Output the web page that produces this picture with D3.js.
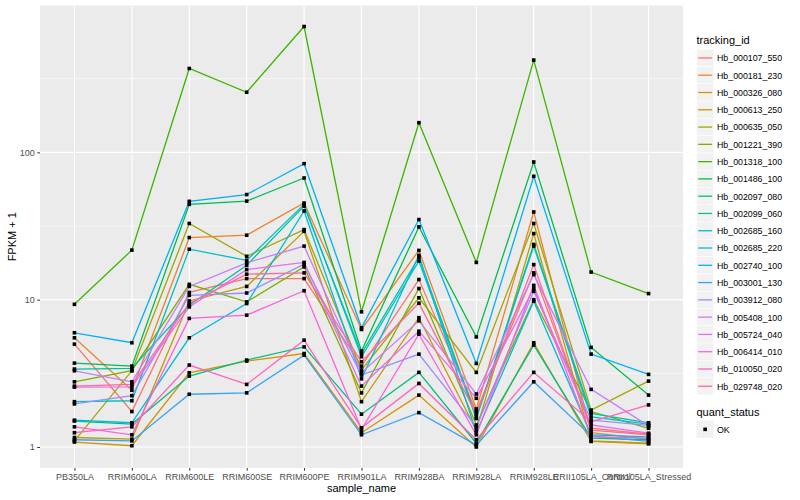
<!DOCTYPE html>
<html>
<head>
<meta charset="utf-8">
<script src="https://cdn.jsdelivr.net/npm/d3@7"></script>
<style>
  body { margin: 0; background: #fff; }
  svg { display: block; font-family: "Liberation Sans", Arial, Helvetica, sans-serif; }
</style>
</head>
<body>
<svg id="chart" width="800" height="500"></svg>
<script>
var sampleNames = ["PB350LA", "RRIM600LA", "RRIM600LE", "RRIM600SE", "RRIM600PE", "RRIM901LA",
    "RRIM928BA", "RRIM928LA", "RRIM928LE", "RRII105LA_Control", "RRII105LA_Stressed"];

var trackingIds = ["Hb_000107_550", "Hb_000181_230", "Hb_000326_080", "Hb_000613_250", "Hb_000635_050",
    "Hb_001221_390", "Hb_001318_100", "Hb_001486_100", "Hb_002097_080", "Hb_002099_060",
    "Hb_002685_160", "Hb_002685_220", "Hb_002740_100", "Hb_003001_130", "Hb_003912_080",
    "Hb_005408_100", "Hb_005724_040", "Hb_006414_010", "Hb_010050_020", "Hb_029748_020"];

// FPKM + 1, one row per tracking_id, columns in sampleNames order
var fpkmPlusOne = [
    [4.99, 1.74, 11.2, 13.9, 13.9, 3.54, 13.7, 1.74, 15.2, 1.34, 1.22],
    [5.51, 2.43, 26.4, 27.4, 45.3, 6.28, 21.6, 1.81, 39.4, 1.25, 1.13],
    [1.08, 1.02, 3.19, 3.83, 4.31, 1.25, 2.25, 1.00, 5.1, 1.09, 1.05],
    [1.16, 1.13, 9.8, 12.3, 29.1, 2.03, 7.55, 1.30, 28.1, 1.10, 1.06],
    [1.10, 3.29, 32.9, 19.7, 29.9, 3.33, 10.3, 3.21, 32.9, 1.78, 2.80],
    [2.77, 3.30, 12.7, 9.66, 16.7, 2.33, 11.9, 1.41, 10.0, 1.74, 1.34],
    [9.3, 21.7, 371, 256, 715, 8.27, 159, 17.9, 423, 15.4, 11.0],
    [3.71, 3.54, 44.4, 46.7, 67, 4.48, 31.2, 5.59, 86, 4.74, 2.25],
    [1.50, 1.43, 3.03, 3.89, 4.78, 1.67, 3.21, 1.06, 4.92, 1.15, 1.12],
    [3.38, 3.42, 9.18, 17.1, 43.2, 4.31, 19.4, 1.60, 23.7, 1.69, 1.46],
    [2.03, 2.06, 22.0, 18.5, 44.4, 4.10, 18.3, 1.56, 23.1, 1.60, 1.43],
    [1.52, 1.46, 5.51, 9.42, 40, 2.9, 20, 1.25, 9.77, 1.21, 1.17],
    [5.96, 5.1, 46.5, 51.7, 83.8, 6.44, 35, 3.69, 68.8, 4.27, 3.11],
    [1.12, 1.10, 2.28, 2.33, 4.2, 1.21, 1.71, 1.03, 2.77, 1.19, 1.09],
    [1.96, 2.23, 10.7, 11.1, 17.4, 3.08, 4.27, 1.37, 11.4, 1.52, 1.40],
    [3.29, 2.77, 12.3, 17.8, 23.1, 3.19, 7.18, 2.29, 14.8, 2.46, 1.39],
    [2.55, 2.56, 8.93, 16.0, 17.9, 2.59, 6.11, 2.14, 11.9, 1.41, 1.24],
    [1.37, 1.21, 7.46, 7.85, 11.5, 1.32, 5.83, 1.21, 12.5, 1.17, 1.15],
    [1.25, 1.37, 3.60, 2.66, 5.31, 1.35, 2.70, 1.12, 3.21, 1.48, 1.93],
    [2.59, 2.66, 9.42, 14.9, 15.2, 3.79, 9.47, 1.67, 17.3, 1.30, 1.21]
];

var yTicks = [1, 10, 100];
var quantStatus = ["OK"];

// R's hcl() (polar Luv) -> hex, like ggplot's hue_pal
function hclHex(h, c, l) {
    var rad = h * Math.PI / 180;
    var U = c * Math.cos(rad), V = c * Math.sin(rad);
    var Xn = 95.047, Yn = 100, Zn = 108.883;
    var den = Xn + 15 * Yn + 3 * Zn;
    var un = 4 * Xn / den, vn = 9 * Yn / den;
    var Y = l > 7.999592 ? Yn * Math.pow((l + 16) / 116, 3) : Yn * l / 903.3;
    var u = U / (13 * l) + un, v = V / (13 * l) + vn;
    var X = 9 * Y * u / (4 * v);
    var Z = -X / 3 - 5 * Y + 3 * Y / v;
    X /= 100; Y /= 100; Z /= 100;
    var rgb = [
        3.240479 * X - 1.537150 * Y - 0.498535 * Z,
        -0.969256 * X + 1.875992 * Y + 0.041556 * Z,
        0.055648 * X - 0.204043 * Y + 1.057311 * Z
    ].map(function(t) {
        t = t <= 0.0031308 ? 12.92 * t : 1.055 * Math.pow(t, 1 / 2.4) - 0.055;
        return Math.round(Math.max(0, Math.min(1, t)) * 255);
    });
    return d3.rgb(rgb[0], rgb[1], rgb[2]).formatHex();
}

var n = trackingIds.length;
var palette = trackingIds.map(function(d, i) { return hclHex(15 + i * 360 / n, 100, 65); });

var svg = d3.select("#chart");
var margin = {left: 40, right: 683, top: 5.5, bottom: 468};

// ggplot-style expansion: 5% in log space, 0.6 units for discrete
var allVals = d3.merge(fpkmPlusOne);
var lmin = Math.log10(d3.min(allVals)), lmax = Math.log10(d3.max(allVals));
var pad = (lmax - lmin) * 0.05;
var y = d3.scaleLog()
    .domain([Math.pow(10, lmin - pad), Math.pow(10, lmax + pad)])
    .range([margin.bottom, margin.top]);

var step = (margin.right - margin.left) / (sampleNames.length - 1 + 1.2);
var x = d3.scalePoint()
    .domain(sampleNames)
    .range([margin.left + 0.6 * step, margin.right - 0.6 * step]);

// panel
svg.append("rect")
    .attr("x", margin.left).attr("y", margin.top)
    .attr("width", margin.right - margin.left)
    .attr("height", margin.bottom - margin.top)
    .attr("fill", "#EBEBEB");

var grid = svg.append("g");
var minorTicks = [Math.pow(10, 0.5), Math.pow(10, 1.5), Math.pow(10, 2.5)];
grid.selectAll(".minor").data(minorTicks).enter().append("line")
    .attr("x1", margin.left).attr("x2", margin.right)
    .attr("y1", function(d) { return y(d); }).attr("y2", function(d) { return y(d); })
    .attr("stroke", "#FFFFFF").attr("stroke-width", 0.55);
grid.selectAll(".major").data(yTicks).enter().append("line")
    .attr("x1", margin.left).attr("x2", margin.right)
    .attr("y1", function(d) { return y(d); }).attr("y2", function(d) { return y(d); })
    .attr("stroke", "#FFFFFF").attr("stroke-width", 1.1);
grid.selectAll(".vmajor").data(sampleNames).enter().append("line")
    .attr("x1", function(d) { return x(d); }).attr("x2", function(d) { return x(d); })
    .attr("y1", margin.top).attr("y2", margin.bottom)
    .attr("stroke", "#FFFFFF").attr("stroke-width", 1.1);

// lines
var line = d3.line()
    .x(function(d, i) { return x(sampleNames[i]); })
    .y(function(d) { return y(d); });

svg.append("g").selectAll("path")
    .data(fpkmPlusOne)
    .enter().append("path")
    .attr("d", line)
    .attr("fill", "none")
    .attr("stroke", function(d, i) { return palette[i]; })
    .attr("stroke-width", 1.3);

// points
var pts = [];
fpkmPlusOne.forEach(function(row, s) {
    row.forEach(function(v, j) { pts.push({s: s, sample: sampleNames[j], v: v}); });
});
svg.append("g").selectAll("rect")
    .data(pts)
    .enter().append("rect")
    .attr("x", function(d) { return x(d.sample) - 1.8; })
    .attr("y", function(d) { return y(d.v) - 1.8; })
    .attr("width", 3.6).attr("height", 3.6)
    .attr("fill", "#000");

// axes
var yAxis = d3.axisLeft(y).tickValues(yTicks).tickFormat(d3.format("d")).tickSize(2.75).tickPadding(2.5);
var gy = svg.append("g").attr("transform", "translate(" + margin.left + ",0)").call(yAxis);
var xAxis = d3.axisBottom(x).tickSize(2.75).tickPadding(2.5);
var gx = svg.append("g").attr("transform", "translate(0," + margin.bottom + ")").call(xAxis);
[gy, gx].forEach(function(g) {
    g.select(".domain").remove();
    g.selectAll(".tick line").attr("stroke", "#333333").attr("stroke-width", 1);
    g.selectAll(".tick text").attr("fill", "#4D4D4D").attr("font-size", "9px")
        .attr("font-family", "Liberation Sans, Arial, sans-serif");
});

svg.append("text")
    .attr("x", (margin.left + margin.right) / 2).attr("y", 492)
    .attr("text-anchor", "middle").attr("font-size", "11px").attr("fill", "#000")
    .text("sample_name");
svg.append("text")
    .attr("transform", "translate(16," + ((margin.top + margin.bottom) / 2) + ") rotate(-90)")
    .attr("text-anchor", "middle").attr("font-size", "11px").attr("fill", "#000")
    .text("FPKM + 1");

// legend
var lg = svg.append("g").attr("transform", "translate(696.5,0)");
lg.append("text").attr("x", 0).attr("y", 44).attr("font-size", "11px").attr("fill", "#000").text("tracking_id");
var keyH = 17.28;
var keys = lg.selectAll(".key").data(trackingIds).enter().append("g")
    .attr("transform", function(d, i) { return "translate(0," + (49.3 + i * keyH) + ")"; });
keys.append("rect").attr("width", 17.28).attr("height", 17.28).attr("fill", "#F2F2F2")
    .attr("stroke", "#FFFFFF").attr("stroke-width", 0.5);
keys.append("line").attr("x1", 1.7).attr("x2", 15.6).attr("y1", 8.64).attr("y2", 8.64)
    .attr("stroke", function(d, i) { return palette[i]; }).attr("stroke-width", 1.3);
keys.append("text").attr("x", 20.5).attr("y", 12).attr("font-size", "8.8px").attr("fill", "#000")
    .text(function(d) { return d; });

lg.append("text").attr("x", 0).attr("y", 416).attr("font-size", "11px").attr("fill", "#000").text("quant_status");
var qk = lg.selectAll(".qkey").data(quantStatus).enter().append("g")
    .attr("transform", "translate(0,420.7)");
qk.append("rect").attr("width", 17.28).attr("height", 17.28).attr("fill", "#F2F2F2");
qk.append("rect").attr("x", 8.64 - 1.8).attr("y", 8.64 - 1.8).attr("width", 3.6).attr("height", 3.6).attr("fill", "#000");
qk.append("text").attr("x", 20.5).attr("y", 12).attr("font-size", "8.8px").attr("fill", "#000")
    .text(function(d) { return d; });
</script>
</body>
</html>
